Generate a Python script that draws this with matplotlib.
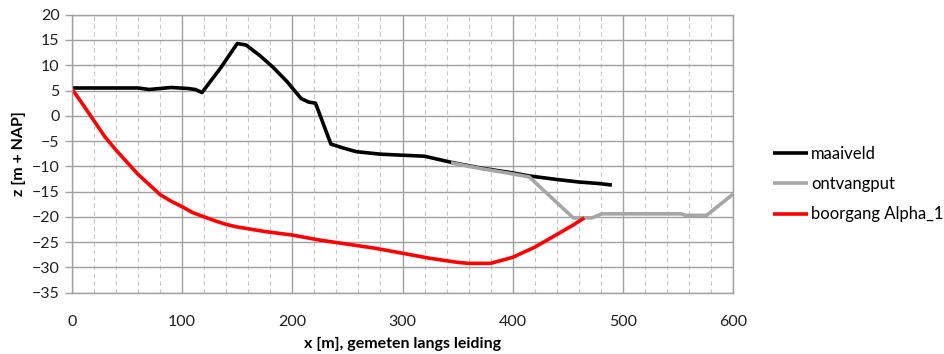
import matplotlib
matplotlib.use("Agg")
import matplotlib.pyplot as plt
from matplotlib.ticker import MultipleLocator

plt.rcParams['font.family'] = ['Lato', 'DejaVu Sans']

# Ground level profile
maaiveld_x = [0, 30, 60, 70, 90, 105, 112, 118, 135, 150, 158, 170, 182, 195, 208, 215, 221, 235, 245, 258, 280, 300, 320, 344, 370, 400, 415, 440, 460, 478, 490]
maaiveld_z = [5.5, 5.5, 5.5, 5.2, 5.6, 5.4, 5.2, 4.6, 9.5, 14.3, 14.0, 12.0, 9.7, 6.8, 3.4, 2.7, 2.5, -5.6, -6.3, -7.1, -7.6, -7.8, -8.0, -9.2, -10.3, -11.3, -11.9, -12.6, -13.1, -13.4, -13.7]

# Receiving pit profile
ontvangput_x = [344, 370, 400, 415, 455, 472, 481, 553, 557, 576, 600]
ontvangput_z = [-9.3, -10.4, -11.5, -12.1, -20.2, -20.2, -19.4, -19.4, -19.7, -19.7, -15.5]

# Drill path
boorgang_x = [0, 10, 20, 30, 40, 50, 60, 70, 80, 90, 100, 110, 120, 130, 140, 150, 175, 200, 225, 250, 275, 300, 325, 350, 360, 380, 400, 420, 440, 455, 465]
boorgang_z = [5.3, 2.2, -1.0, -4.2, -6.8, -9.2, -11.6, -13.6, -15.6, -16.9, -18.0, -19.2, -20.0, -20.8, -21.5, -22.0, -22.9, -23.6, -24.6, -25.4, -26.2, -27.2, -28.2, -29.0, -29.2, -29.2, -28.0, -26.0, -23.5, -21.6, -20.2]

fig = plt.figure(figsize=(9.45, 3.54), dpi=100)
ax = fig.add_axes([0.0762, 0.1732, 0.6995, 0.7853])

ax.plot(maaiveld_x, maaiveld_z, color='#000000', lw=2.6, label='maaiveld', solid_capstyle='butt')
ax.plot(ontvangput_x, ontvangput_z, color='#A6A6A6', lw=2.6, label='ontvangput', solid_capstyle='butt')
ax.plot(boorgang_x, boorgang_z, color='#FF0000', lw=2.6, label='boorgang Alpha_1', solid_capstyle='butt')

ax.set_xlim(0, 600)
ax.set_ylim(-35, 20)
ax.xaxis.set_major_locator(MultipleLocator(100))
ax.xaxis.set_minor_locator(MultipleLocator(20))
ax.yaxis.set_major_locator(MultipleLocator(5))

ax.grid(which='major', color='#A0A0A0', lw=1.0, ls='-')
ax.grid(which='minor', axis='x', color='#C8C8C8', lw=0.8, ls=(0, (4, 3)))
ax.set_axisbelow(True)

for s in ax.spines.values():
    s.set_color('#A0A0A0')
    s.set_linewidth(1.0)

ax.tick_params(axis='x', which='both', length=0, pad=16, labelsize=11.5, labelcolor='#202020')
ax.tick_params(axis='y', which='major', length=5, width=1.0, color='#A0A0A0', pad=4, labelsize=11.5, labelcolor='#202020')

ax.set_xlabel('x [m], gemeten langs leiding', fontsize=11.5, fontweight='bold', labelpad=6)
ax.set_ylabel('z [m + NAP]', fontsize=11.5, fontweight='bold', labelpad=4)

leg = ax.legend(loc='center left', bbox_to_anchor=(1.06, 0.39), frameon=False, fontsize=12,
                handlelength=2.1, handletextpad=0.2, labelspacing=0.85,
                borderpad=0, borderaxespad=0)

fig.savefig('out.png', dpi=100)
